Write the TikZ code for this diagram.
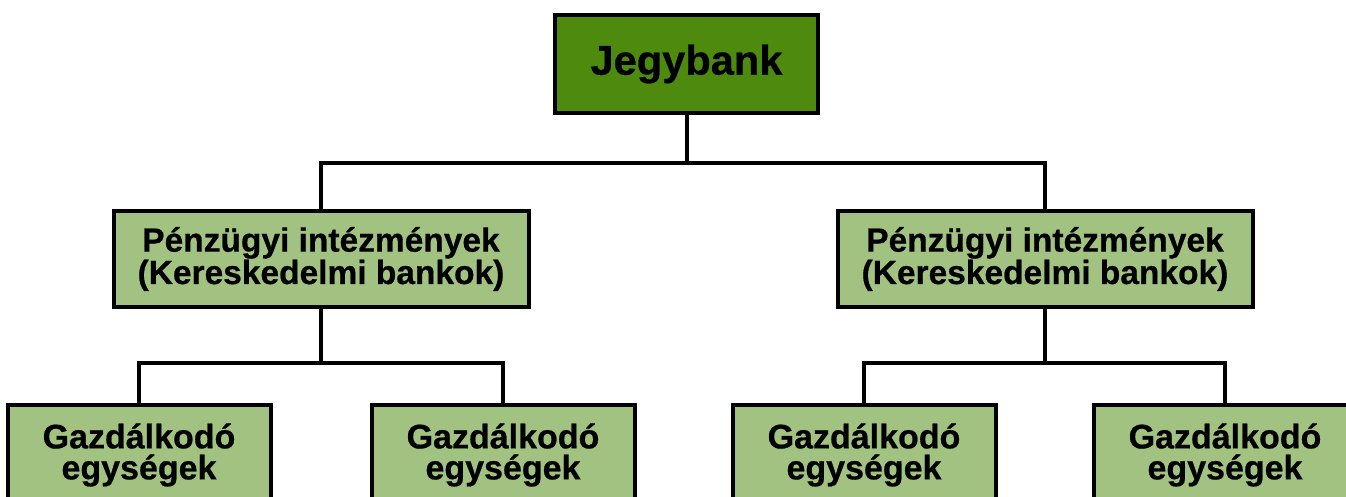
\documentclass[tikz,border=0pt]{standalone}
\usepackage{fontspec}
\setmainfont{Liberation Sans}[BoldFeatures={FakeBold=0.6}]
\definecolor{darkgr}{RGB}{78,138,14}
\definecolor{lightgr}{RGB}{161,194,129}
\begin{document}
\begin{tikzpicture}[x=1pt,y=1pt,
  box/.style={draw=black, line width=4pt, inner sep=0pt, align=center},
  topbox/.style={box, fill=darkgr, minimum width=263pt, minimum height=98pt,
    font=\fontsize{41.6}{46}\bfseries\selectfont},
  midbox/.style={box, fill=lightgr, minimum width=415pt, minimum height=96pt,
    font=\fontsize{33.5}{31}\bfseries\selectfont},
  botbox/.style={box, fill=lightgr, minimum width=263pt, minimum height=100pt,
    anchor=north, font=\fontsize{34}{31}\bfseries\selectfont},
  link/.style={draw=black, line width=4pt}]
\useasboundingbox (0,0) rectangle (1346,-497);
\clip (0,0) rectangle (1346,-497);
\fill[white] (0,0) rectangle (1346,-497);

\node[topbox] (jb) at (686.5,-64) {Jegybank};
\node[midbox] (p1) at (321,-259) {Pénzügyi intézmények\\(Kereskedelmi bankok)};
\node[midbox] (p2) at (1045,-259) {Pénzügyi intézmények\\(Kereskedelmi bankok)};
\node[botbox] (g1) at (139,-403) {Gazdálkodó\\egységek};
\node[botbox] (g2) at (503,-403) {Gazdálkodó\\egységek};
\node[botbox] (g3) at (864,-403) {Gazdálkodó\\egységek};
\node[botbox] (g4) at (1225,-403) {Gazdálkodó\\egységek};

\draw[link] (jb.south) -- ++(0,-48) -| (p1.north);
\draw[link] (jb.south) -- ++(0,-48) -| (p2.north);
\draw[link] (p1.south) -- ++(0,-54) -| (g1.north);
\draw[link] (p1.south) -- ++(0,-54) -| (g2.north);
\draw[link] (p2.south) -- ++(0,-54) -| (g3.north);
\draw[link] (p2.south) -- ++(0,-54) -| (g4.north);
\end{tikzpicture}
\end{document}
